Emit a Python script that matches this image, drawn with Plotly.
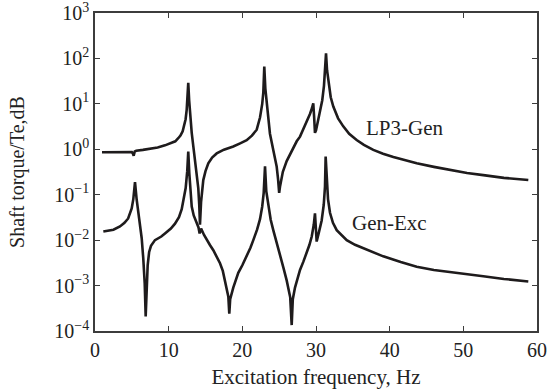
import plotly.graph_objects as go

# Shaft torque response (Te-normalised) versus excitation frequency
lp3_gen_freq = [0.95, 2.0, 3.0, 4.0, 5.0, 5.15, 5.25, 5.4, 5.6, 6.5, 7.5, 8.5, 9.5, 10.3, 10.9,
                11.3, 11.6, 11.9, 12.1, 12.3, 12.45, 12.56, 12.66, 12.78, 12.9, 13.13, 13.35,
                13.57, 13.8, 14.02, 14.15, 14.25, 14.4, 14.7, 15.0, 15.38, 15.9, 16.52, 17.5,
                18.77, 19.7, 20.59, 21.3, 21.95, 22.4, 22.7, 22.85, 22.98, 23.12, 23.31, 23.75,
                24.2, 24.66, 24.85, 25.0, 25.11, 25.5, 26.02, 26.7, 27.38, 27.83, 28.51, 29.18,
                29.45, 29.63, 29.75, 29.86, 30.0, 30.31, 30.6, 30.85, 31.08, 31.25, 31.36, 31.5,
                31.67, 32.0, 32.35, 33.0, 33.7, 34.5, 35.52, 36.5, 37.78, 39.1, 40.5, 42.0,
                43.67, 46.0, 48.19, 50.5, 52.71, 55.5, 58.82]
lp3_gen_val = [0.86, 0.86, 0.86, 0.86, 0.87, 0.80, 0.72, 0.90, 0.93, 0.97, 1.03, 1.10, 1.22, 1.36, 1.5,
               1.75, 2.0, 2.5, 3.2, 4.6, 7.5, 13.0, 29.0, 12.0, 5.5, 2.3, 1.15,
               0.58, 0.30, 0.14, 0.06, 0.022, 0.07, 0.21, 0.33, 0.49, 0.66, 0.81, 0.98,
               1.15, 1.35, 1.58, 2.0, 2.7, 5.0, 10.0, 18.0, 66.0, 22.0, 12.0, 2.2,
               0.96, 0.42, 0.22, 0.11, 0.15, 0.32, 0.55, 0.95, 1.5, 1.9, 3.3, 6.0,
               8.0, 10.3, 5.0, 2.3, 2.6, 4.4, 7.5, 12.0, 25.0, 60.0, 129.0, 55.0,
               34.0, 14.0, 8.7, 4.8, 3.2, 2.2, 1.6, 1.25, 0.97, 0.80, 0.68, 0.58,
               0.49, 0.41, 0.35, 0.30, 0.27, 0.235, 0.21]

gen_exc_freq = [1.13, 2.5, 3.39, 4.0, 4.5, 4.98, 5.2, 5.43, 5.65, 5.88, 6.1, 6.34, 6.55, 6.75, 6.88,
                7.0, 7.15, 7.35, 7.6, 8.14, 9.0, 9.5, 10.3, 10.86, 11.4, 11.77, 12.1, 12.31, 12.52,
                12.66, 12.8, 12.95, 13.13, 13.4, 13.8, 14.05, 14.2, 14.4, 14.8, 15.16, 15.6, 16.06,
                16.5, 16.97, 17.35, 17.65, 17.9, 18.1, 18.23, 18.35, 18.77, 19.1, 19.45, 20.0,
                20.59, 21.1, 21.49, 22.0, 22.4, 22.7, 22.9, 23.08, 23.25, 23.52, 23.85, 24.2,
                24.65, 25.11, 25.6, 26.02, 26.3, 26.5, 26.7, 26.85, 27.15, 27.5, 27.83, 28.3,
                28.74, 29.1, 29.42, 29.7, 29.86, 30.09, 30.4, 30.77, 31.05, 31.22, 31.31, 31.45,
                31.63, 31.9, 32.3, 32.81, 33.5, 34.17, 35.3, 36.42, 37.8, 39.13, 41.5, 43.67,
                46.0, 48.19, 50.5, 52.71, 55.5, 58.82]
gen_exc_val = [0.0155, 0.017, 0.020, 0.024, 0.030, 0.05, 0.08, 0.19, 0.08, 0.042, 0.022, 0.011,
               0.004, 0.0011, 0.00021, 0.0011, 0.0028, 0.0055, 0.0075, 0.010, 0.012, 0.014,
               0.018, 0.023, 0.032, 0.048, 0.085, 0.14, 0.33, 0.89, 0.3, 0.12, 0.055, 0.035,
               0.025, 0.019, 0.014, 0.018, 0.013, 0.010, 0.0078, 0.006, 0.0043, 0.0031, 0.0021,
               0.0013, 0.0008, 0.00057, 0.00024, 0.0005, 0.0009, 0.0013, 0.0019, 0.0028, 0.0044,
               0.0068, 0.010, 0.017, 0.029, 0.055, 0.11, 0.42, 0.12, 0.055, 0.028, 0.0166,
               0.0085, 0.0044, 0.0024, 0.0013, 0.0008, 0.00055, 0.000135, 0.0005, 0.0009, 0.0015,
               0.0022, 0.0034, 0.0051, 0.0078, 0.012, 0.022, 0.039, 0.0093, 0.015, 0.027, 0.06,
               0.15, 0.69, 0.18, 0.08, 0.04, 0.024, 0.0166, 0.0125, 0.010, 0.0079, 0.0066,
               0.0053, 0.0044, 0.0033, 0.0026, 0.0022, 0.0020, 0.0018, 0.0016, 0.0014, 0.00123]

y_tick_vals = [1e-4, 1e-3, 1e-2, 1e-1, 1e0, 1e1, 1e2, 1e3]
y_tick_text = ["10<sup>−4</sup>", "10<sup>−3</sup>", "10<sup>−2</sup>", "10<sup>−1</sup>",
               "10<sup>0</sup>", "10<sup>1</sup>", "10<sup>2</sup>", "10<sup>3</sup>"]
x_tick_vals = [0, 10, 20, 30, 40, 50, 60]

LINE_COLOR = "#1e1b1c"
AXIS_COLOR = "#3c3c3c"
FONT = "Liberation Serif, Times New Roman, serif"

fig = go.Figure()
fig.add_trace(go.Scatter(x=lp3_gen_freq, y=lp3_gen_val, mode="lines", name="LP3-Gen",
                         line=dict(color=LINE_COLOR, width=2.6)))
fig.add_trace(go.Scatter(x=gen_exc_freq, y=gen_exc_val, mode="lines", name="Gen-Exc",
                         line=dict(color=LINE_COLOR, width=2.6)))

fig.add_annotation(x=42.0, y=0.47, text="LP3-Gen", showarrow=False,
                   font=dict(family=FONT, size=21, color="#222"))
fig.add_annotation(x=40.0, y=-1.62, text="Gen-Exc", showarrow=False,
                   font=dict(family=FONT, size=21, color="#222"))

fig.update_layout(
    width=548, height=392,
    margin=dict(l=95, r=11, t=13, b=61),
    paper_bgcolor="white", plot_bgcolor="white",
    showlegend=False,
    font=dict(family=FONT, size=20, color="#222"),
)
fig.update_xaxes(
    range=[0, 60], tickvals=x_tick_vals, ticks="inside", ticklen=5, tickwidth=1.2,
    tickcolor=AXIS_COLOR, showline=True, linecolor=AXIS_COLOR, linewidth=1.5,
    mirror="ticks", showgrid=False, zeroline=False, ticklabeloverflow="allow",
    automargin=False,
    title=dict(text="Excitation frequency, Hz", standoff=10,
               font=dict(family=FONT, size=21, color="#222")),
)
fig.update_yaxes(
    type="log", range=[-4.0005, 3.0005], tickvals=y_tick_vals, ticktext=y_tick_text,
    ticks="inside", ticklen=5, tickwidth=1.2, tickcolor=AXIS_COLOR,
    showline=True, linecolor=AXIS_COLOR, linewidth=1.5, mirror="ticks",
    showgrid=False, zeroline=False, ticklabeloverflow="allow",
    automargin=False,
    title=dict(text="Shaft torque/Te,dB", standoff=24,
               font=dict(family=FONT, size=20, color="#222")),
)

fig.write_html("out.html")
